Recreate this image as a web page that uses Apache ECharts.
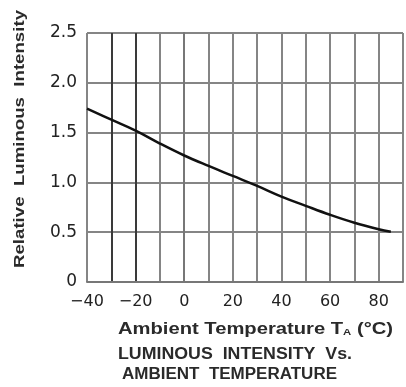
<!DOCTYPE html>
<html>
<head>
<meta charset="utf-8">
<script src="https://cdn.jsdelivr.net/npm/echarts@6/dist/echarts.min.js"></script>
<style>
html,body{margin:0;padding:0;background:#fff;}
#chart{width:406px;height:387px;}
</style>
</head>
<body>
<div id="chart"></div>
<script>
// ---- data ----
var temps = [-40, -30, -20, -10, 0, 10, 20, 30, 40, 50, 60, 70, 80, 85];
var intensity = [1.74, 1.63, 1.52, 1.39, 1.27, 1.165, 1.065, 0.965, 0.858, 0.765, 0.675, 0.595, 0.53, 0.505];
var xTickLabels = [-40, -20, 0, 20, 40, 60, 80];
var yTickLabels = [0, 0.5, 1.0, 1.5, 2.0, 2.5];
var yAxisTitle = 'Relative  Luminous  Intensity';
var xAxisTitle = ['Ambient Temperature T', 'A', ' (°C)'];
var captionLines = ['LUMINOUS  INTENSITY  Vs.', 'AMBIENT  TEMPERATURE'];

var FONT = '"Liberation Sans", Arial, sans-serif';
var TICKFONT = '"DejaVu Sans", sans-serif';
var ctx = document.createElement('canvas').getContext('2d');
function tw(text, size, weight) {
  ctx.font = (weight || 'normal') + ' ' + size + 'px ' + FONT;
  return ctx.measureText(text).width;
}

var chart = echarts.init(document.getElementById('chart'), null, {renderer: 'canvas'});

var gridColors = [];
for (var i = 0; i <= 13; i++) gridColors.push((i === 1 || i === 2) ? '#3a3a3a' : '#858585');

var pts = temps.map(function (t, i) { return [t, intensity[i]]; });

// text fitting
var yTitleSize = 15, yTitleLen = 258;
var yTitleScale = yTitleLen / tw(yAxisTitle, yTitleSize, 'bold');

var l1Size = 16, l1Sub = 9;
var l1W = tw(xAxisTitle[0], l1Size, 'bold') + tw(xAxisTitle[1], l1Sub, 'bold') + tw(xAxisTitle[2], l1Size, 'bold');
var l1Scale = 275 / l1W;
var l2Scale = 234 / tw(captionLines[0], l1Size, 'bold');
var l3Scale = 215 / tw(captionLines[1], l1Size, 'bold');

var option = {
  animation: false,
  backgroundColor: '#fff',
  grid: {left: 87, top: 33, width: 321, height: 249, containLabel: false},
  xAxis: {
    type: 'value', min: -40, max: 90, interval: 10,
    axisLine: {show: true, lineStyle: {color: '#777', width: 2}},
    axisTick: {show: false},
    axisLabel: {
      show: true, margin: 12, color: '#222', fontSize: 16, fontFamily: TICKFONT,
      formatter: function (v) {
        if (xTickLabels.indexOf(v) < 0) return '';
        return v < 0 ? '\u2212' + Math.abs(v) : String(v);
      }
    },
    splitLine: {show: true, lineStyle: {color: gridColors, width: 2}}
  },
  yAxis: {
    type: 'value', min: 0, max: 2.5, interval: 0.5,
    axisLine: {show: true, lineStyle: {color: '#777', width: 2}},
    axisTick: {show: false},
    axisLabel: {
      show: true, margin: 10, color: '#222', fontSize: 17, fontFamily: TICKFONT,
      formatter: function (v) {
        var idx = -1;
        for (var k = 0; k < yTickLabels.length; k++) if (Math.abs(yTickLabels[k] - v) < 1e-9) idx = k;
        if (idx < 0) return '';
        return yTickLabels[idx] === 0 ? '0' : yTickLabels[idx].toFixed(1);
      }
    },
    splitLine: {show: true, lineStyle: {color: '#858585', width: 2}}
  },
  series: [{
    type: 'line', data: pts, smooth: 0.4, showSymbol: false,
    lineStyle: {color: '#111', width: 2.5}, z: 5
  }],
  graphic: [
    {
      type: 'text', x: 20, y: 139, rotation: Math.PI / 2, scaleX: yTitleScale,
      style: {text: yAxisTitle, fill: '#2a2a2a', font: 'bold ' + yTitleSize + 'px ' + FONT,
        textAlign: 'center', textVerticalAlign: 'middle'}
    },
    {
      type: 'text', x: 118, y: 330, scaleX: l1Scale,
      style: {
        text: '{m|' + xAxisTitle[0] + '}{s|' + xAxisTitle[1] + '}{m|' + xAxisTitle[2] + '}',
        fill: '#2a2a2a', textAlign: 'left', textVerticalAlign: 'middle',
        rich: {
          m: {font: 'bold ' + l1Size + 'px ' + FONT, fill: '#2a2a2a'},
          s: {font: 'bold ' + l1Sub + 'px ' + FONT, fill: '#2a2a2a', padding: [6, 0, 0, 0]}
        }
      }
    },
    {
      type: 'text', x: 118, y: 355, scaleX: l2Scale,
      style: {text: captionLines[0], fill: '#2a2a2a', font: 'bold ' + l1Size + 'px ' + FONT,
        textAlign: 'left', textVerticalAlign: 'middle'}
    },
    {
      type: 'text', x: 122, y: 375, scaleX: l3Scale,
      style: {text: captionLines[1], fill: '#2a2a2a', font: 'bold ' + l1Size + 'px ' + FONT,
        textAlign: 'left', textVerticalAlign: 'middle'}
    }
  ]
};
chart.setOption(option);
</script>
</body>
</html>
